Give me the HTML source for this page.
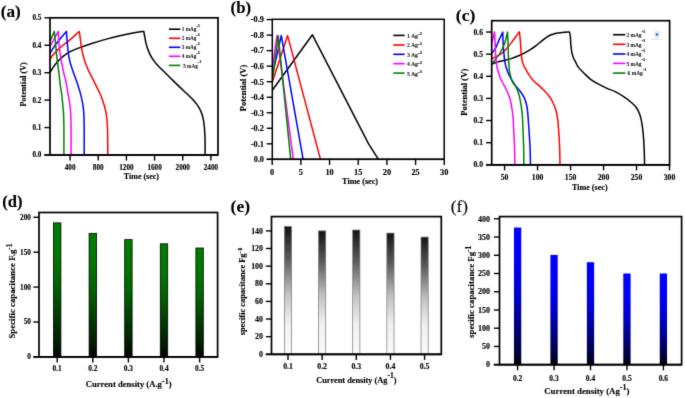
<!DOCTYPE html><html><head><meta charset="utf-8"><style>html,body{margin:0;padding:0;background:#fff;}svg{display:block;}#w{will-change:transform;width:685px;height:398px;overflow:hidden;}text{font-family:"Liberation Serif",serif;fill:#000;stroke:#000;stroke-width:0.14px;}</style></head><body>
<div id="w">
<svg width="685" height="398" viewBox="0 0 685 398">
<rect width="685" height="398" fill="#fff"/>
<filter id="bl" x="0" y="0" width="685" height="398" filterUnits="userSpaceOnUse" color-interpolation-filters="sRGB"><feConvolveMatrix order="3" kernelMatrix="0.0183 0.1353 0.0183 0.1353 1.0000 0.1353 0.0183 0.1353 0.0183" divisor="1.6146" edgeMode="duplicate"/></filter>
<g filter="url(#bl)">
<rect width="685" height="398" fill="#fff"/>
<defs><linearGradient id="gG" x1="0" y1="0" x2="0" y2="1"><stop offset="0" stop-color="#008000"/><stop offset="0.25" stop-color="#007600"/><stop offset="0.45" stop-color="#006400"/><stop offset="0.75" stop-color="#003200"/><stop offset="0.91" stop-color="#001900"/><stop offset="1" stop-color="#000500"/></linearGradient><linearGradient id="gB" x1="0" y1="0" x2="0" y2="1"><stop offset="0" stop-color="#0000ff"/><stop offset="0.2" stop-color="#0000fa"/><stop offset="0.48" stop-color="#0000cd"/><stop offset="0.77" stop-color="#00006e"/><stop offset="0.93" stop-color="#000032"/><stop offset="1" stop-color="#000010"/></linearGradient><linearGradient id="gK" x1="0" y1="0" x2="0" y2="1"><stop offset="0" stop-color="#141414"/><stop offset="0.05" stop-color="#222"/><stop offset="0.25" stop-color="#5a5a5a"/><stop offset="0.52" stop-color="#c0c0c0"/><stop offset="0.75" stop-color="#f0f0f0"/><stop offset="1" stop-color="#fafafa"/></linearGradient></defs>
<path d="M50,72.6C50.42,71.88 51.33,70.03 52.5,68.3C53.67,66.57 55.23,64.2 57,62.2C58.77,60.2 60.83,58.1 63.1,56.3C65.37,54.5 68.25,52.68 70.6,51.4C72.95,50.12 73.67,49.92 77.2,48.6C80.73,47.28 86.93,45.08 91.8,43.5C96.67,41.92 101.53,40.43 106.4,39.1C111.27,37.77 116.13,36.58 121,35.5C125.87,34.42 131.8,33.28 135.6,32.6C139.4,31.92 142.43,31.6 143.8,31.4C143.92,32.08 144.13,33.55 144.5,35.5C144.87,37.45 145.37,40.58 146,43.1C146.63,45.62 147.28,48.08 148.3,50.6C149.32,53.12 150.72,55.93 152.1,58.2C153.48,60.47 154.85,62.18 156.6,64.2C158.35,66.22 160.33,68.03 162.6,70.3C164.87,72.57 167.68,75.33 170.2,77.8C172.72,80.27 175.55,83.03 177.7,85.1C179.85,87.17 180.7,87.92 183.1,90.2C185.5,92.48 189.47,95.95 192.1,98.8C194.73,101.65 197.2,104.57 198.9,107.3C200.6,110.03 201.43,112.37 202.3,115.2C203.17,118.03 203.65,120.52 204.1,124.3C204.55,128.08 204.83,132.78 205,137.9C205.17,143.02 205.08,152.15 205.1,155" fill="none" stroke="#000" stroke-width="1.5" stroke-linejoin="round" stroke-linecap="butt"/>
<path d="M50,59.5C50.42,58.85 50.82,57.58 52.5,55.6C54.18,53.62 57.33,50.1 60.1,47.6C62.87,45.1 65.92,43.28 69.1,40.6C72.28,37.92 77.52,33.02 79.2,31.5C79.38,32.68 79.97,36.25 80.3,38.6C80.63,40.95 80.85,43.32 81.2,45.6C81.55,47.88 82.03,50.48 82.4,52.3C82.77,54.12 82.92,54.8 83.4,56.5C83.88,58.2 84.48,60.23 85.3,62.5C86.12,64.77 87.17,67.58 88.3,70.1C89.43,72.62 90.85,75.08 92.1,77.6C93.35,80.12 94.55,82.68 95.8,85.2C97.05,87.72 98.47,90.2 99.6,92.7C100.73,95.2 101.72,97.68 102.6,100.2C103.48,102.72 104.27,105.33 104.9,107.8C105.53,110.27 106.02,112.63 106.4,115C106.78,117.37 107,119.17 107.2,122C107.4,124.83 107.5,126.5 107.6,132C107.7,137.5 107.77,151.17 107.8,155" fill="none" stroke="#ff0000" stroke-width="1.5" stroke-linejoin="round" stroke-linecap="butt"/>
<path d="M50,53.6C50.92,52.1 52.77,48.3 55.5,44.6C58.23,40.9 64.58,33.6 66.4,31.4C66.55,33.35 66.85,38.63 67.3,43.1C67.75,47.57 68.3,53.93 69.1,58.2C69.9,62.47 70.97,65.18 72.1,68.7C73.23,72.22 74.55,75.32 75.9,79.3C77.25,83.28 79.03,88.37 80.2,92.6C81.37,96.83 82.28,100.93 82.9,104.7C83.52,108.47 83.68,110.98 83.9,115.2C84.12,119.42 84.15,123.37 84.2,130C84.25,136.63 84.2,150.83 84.2,155" fill="none" stroke="#0000ff" stroke-width="1.5" stroke-linejoin="round" stroke-linecap="butt"/>
<path d="M50,46.5L58.3,31.4C58.4,33.35 58.48,38.63 58.9,43.1C59.32,47.57 59.98,53.18 60.8,58.2C61.62,63.22 63,69.57 63.8,73.2C64.6,76.83 64.93,76.77 65.6,80C66.27,83.23 67.08,88.48 67.8,92.6C68.52,96.72 69.4,100.93 69.9,104.7C70.4,108.47 70.6,110.98 70.8,115.2C71,119.42 71.05,123.37 71.1,130C71.15,136.63 71.1,150.83 71.1,155" fill="none" stroke="#ff00ff" stroke-width="1.5" stroke-linejoin="round" stroke-linecap="butt"/>
<path d="M50,41.5L54.3,31.4C54.5,33.35 55.05,38.63 55.5,43.1C55.95,47.57 56.43,53.18 57,58.2C57.57,63.22 58.33,68.57 58.9,73.2C59.47,77.83 59.95,82.53 60.4,86C60.85,89.47 61.2,90.88 61.6,94C62,97.12 62.47,101.17 62.8,104.7C63.13,108.23 63.42,110.98 63.6,115.2C63.78,119.42 63.85,123.37 63.9,130C63.95,136.63 63.9,150.83 63.9,155" fill="none" stroke="#008000" stroke-width="1.5" stroke-linejoin="round" stroke-linecap="butt"/>
<line x1="44.3" y1="155" x2="218" y2="155" stroke="#000" stroke-width="1.7"/>
<rect x="50" y="17.8" width="168" height="137.2" fill="none" stroke="#000" stroke-width="1.7"/>
<line x1="44.4" y1="155" x2="50" y2="155" stroke="#000" stroke-width="1.4"/>
<text x="41.4" y="157.45" font-size="7.2" text-anchor="end" font-weight="bold">0.0</text>
<line x1="44.4" y1="127.56" x2="50" y2="127.56" stroke="#000" stroke-width="1.4"/>
<text x="41.4" y="130.01" font-size="7.2" text-anchor="end" font-weight="bold">0.1</text>
<line x1="44.4" y1="100.12" x2="50" y2="100.12" stroke="#000" stroke-width="1.4"/>
<text x="41.4" y="102.57" font-size="7.2" text-anchor="end" font-weight="bold">0.2</text>
<line x1="44.4" y1="72.68" x2="50" y2="72.68" stroke="#000" stroke-width="1.4"/>
<text x="41.4" y="75.13" font-size="7.2" text-anchor="end" font-weight="bold">0.3</text>
<line x1="44.4" y1="45.24" x2="50" y2="45.24" stroke="#000" stroke-width="1.4"/>
<text x="41.4" y="47.69" font-size="7.2" text-anchor="end" font-weight="bold">0.4</text>
<line x1="44.4" y1="17.8" x2="50" y2="17.8" stroke="#000" stroke-width="1.4"/>
<text x="41.4" y="20.25" font-size="7.2" text-anchor="end" font-weight="bold">0.5</text>
<line x1="70.1" y1="155" x2="70.1" y2="160.6" stroke="#000" stroke-width="1.4"/>
<text x="70.1" y="169.95" font-size="7.2" text-anchor="middle" font-weight="bold">400</text>
<line x1="98.26" y1="155" x2="98.26" y2="160.6" stroke="#000" stroke-width="1.4"/>
<text x="98.26" y="169.95" font-size="7.2" text-anchor="middle" font-weight="bold">800</text>
<line x1="126.42" y1="155" x2="126.42" y2="160.6" stroke="#000" stroke-width="1.4"/>
<text x="126.42" y="169.95" font-size="7.2" text-anchor="middle" font-weight="bold">1200</text>
<line x1="154.58" y1="155" x2="154.58" y2="160.6" stroke="#000" stroke-width="1.4"/>
<text x="154.58" y="169.95" font-size="7.2" text-anchor="middle" font-weight="bold">1600</text>
<line x1="182.74" y1="155" x2="182.74" y2="160.6" stroke="#000" stroke-width="1.4"/>
<text x="182.74" y="169.95" font-size="7.2" text-anchor="middle" font-weight="bold">2000</text>
<line x1="210.9" y1="155" x2="210.9" y2="160.6" stroke="#000" stroke-width="1.4"/>
<text x="210.9" y="169.95" font-size="7.2" text-anchor="middle" font-weight="bold">2400</text>
<text x="141.4" y="178.5" font-size="8" text-anchor="middle" font-weight="bold">Time (sec)</text>
<text x="23.5" y="84.4" font-size="8.1" text-anchor="middle" font-weight="bold" transform="rotate(-90 23.5 84.4)" dy="2.8">Potential (V)</text>
<line x1="168.9" y1="29.2" x2="180.3" y2="29.2" stroke="#000" stroke-width="1.6"/>
<text x="181.8" y="31.38" font-size="5.2" font-weight="bold" style="stroke:#222;stroke-width:0.08px;fill:#222">1 mAg<tspan font-size="4.42" dy="-4.16" style="stroke-width:0.2px">-1</tspan></text>
<line x1="168.9" y1="38.3" x2="180.3" y2="38.3" stroke="#ff0000" stroke-width="1.6"/>
<text x="181.8" y="40.48" font-size="5.2" font-weight="bold" style="stroke:#222;stroke-width:0.08px;fill:#222">2 mAg<tspan font-size="4.42" dy="-4.16" style="stroke-width:0.2px">-1</tspan></text>
<line x1="168.9" y1="47.3" x2="180.3" y2="47.3" stroke="#0000ff" stroke-width="1.6"/>
<text x="181.8" y="49.48" font-size="5.2" font-weight="bold" style="stroke:#222;stroke-width:0.08px;fill:#222">3 mAg<tspan font-size="4.42" dy="-4.16" style="stroke-width:0.2px">-1</tspan></text>
<line x1="168.9" y1="56.3" x2="180.3" y2="56.3" stroke="#ff00ff" stroke-width="1.6"/>
<text x="181.8" y="58.48" font-size="5.2" font-weight="bold" style="stroke:#222;stroke-width:0.08px;fill:#222">4 mAg<tspan font-size="4.42" dy="-4.16" style="stroke-width:0.2px">-1</tspan></text>
<line x1="168.9" y1="65.4" x2="180.3" y2="65.4" stroke="#008000" stroke-width="1.6"/>
<text x="183.2" y="67.58" font-size="5.2" font-weight="bold" style="stroke:#222;stroke-width:0.08px;fill:#222">5 mAg<tspan font-size="4.42" dy="-4.16" style="stroke-width:0.2px">-1</tspan></text>
<text x="0.8" y="17.4" font-size="17.2" text-anchor="start" font-weight="bold">(a)</text>
<path d="M272.5,90L312.4,34.8L368.6,143.8L378.3,159.1" fill="none" stroke="#000" stroke-width="1.5" stroke-linejoin="round" stroke-linecap="butt"/>
<path d="M272.5,81.6L287.6,35.6L320.4,159.1" fill="none" stroke="#ff0000" stroke-width="1.5" stroke-linejoin="round" stroke-linecap="butt"/>
<path d="M272.5,74.7L281.3,35.6L303.1,159.1" fill="none" stroke="#0000ff" stroke-width="1.5" stroke-linejoin="round" stroke-linecap="butt"/>
<path d="M272.5,66.9L277,35.6L293.3,159.1" fill="none" stroke="#ff00ff" stroke-width="1.5" stroke-linejoin="round" stroke-linecap="butt"/>
<path d="M272.5,79.3L278.2,35.6L290.7,159.1" fill="none" stroke="#008000" stroke-width="1.5" stroke-linejoin="round" stroke-linecap="butt"/>
<line x1="266.6" y1="159.35" x2="444.2" y2="159.35" stroke="#000" stroke-width="1.5"/>
<rect x="272.3" y="19.3" width="171.9" height="140.05" fill="none" stroke="#000" stroke-width="1.5"/>
<line x1="266.7" y1="159.35" x2="272.3" y2="159.35" stroke="#000" stroke-width="1.4"/>
<text x="264" y="162.17" font-size="8.3" text-anchor="end" font-weight="bold">0.0</text>
<line x1="266.7" y1="143.82" x2="272.3" y2="143.82" stroke="#000" stroke-width="1.4"/>
<text x="264" y="146.64" font-size="8.3" text-anchor="end" font-weight="bold">-0.1</text>
<line x1="266.7" y1="128.29" x2="272.3" y2="128.29" stroke="#000" stroke-width="1.4"/>
<text x="264" y="131.11" font-size="8.3" text-anchor="end" font-weight="bold">-0.2</text>
<line x1="266.7" y1="112.76" x2="272.3" y2="112.76" stroke="#000" stroke-width="1.4"/>
<text x="264" y="115.58" font-size="8.3" text-anchor="end" font-weight="bold">-0.3</text>
<line x1="266.7" y1="97.23" x2="272.3" y2="97.23" stroke="#000" stroke-width="1.4"/>
<text x="264" y="100.05" font-size="8.3" text-anchor="end" font-weight="bold">-0.4</text>
<line x1="266.7" y1="81.7" x2="272.3" y2="81.7" stroke="#000" stroke-width="1.4"/>
<text x="264" y="84.52" font-size="8.3" text-anchor="end" font-weight="bold">-0.5</text>
<line x1="266.7" y1="66.17" x2="272.3" y2="66.17" stroke="#000" stroke-width="1.4"/>
<text x="264" y="68.99" font-size="8.3" text-anchor="end" font-weight="bold">-0.6</text>
<line x1="266.7" y1="50.64" x2="272.3" y2="50.64" stroke="#000" stroke-width="1.4"/>
<text x="264" y="53.46" font-size="8.3" text-anchor="end" font-weight="bold">-0.7</text>
<line x1="266.7" y1="35.11" x2="272.3" y2="35.11" stroke="#000" stroke-width="1.4"/>
<text x="264" y="37.93" font-size="8.3" text-anchor="end" font-weight="bold">-0.8</text>
<line x1="266.7" y1="19.58" x2="272.3" y2="19.58" stroke="#000" stroke-width="1.4"/>
<text x="264" y="22.4" font-size="8.3" text-anchor="end" font-weight="bold">-0.9</text>
<line x1="272.2" y1="159.35" x2="272.2" y2="164.95" stroke="#000" stroke-width="1.4"/>
<text x="272.2" y="174.82" font-size="8.3" text-anchor="middle" font-weight="bold">0</text>
<line x1="300.88" y1="159.35" x2="300.88" y2="164.95" stroke="#000" stroke-width="1.4"/>
<text x="300.88" y="174.82" font-size="8.3" text-anchor="middle" font-weight="bold">5</text>
<line x1="329.55" y1="159.35" x2="329.55" y2="164.95" stroke="#000" stroke-width="1.4"/>
<text x="329.55" y="174.82" font-size="8.3" text-anchor="middle" font-weight="bold">10</text>
<line x1="358.23" y1="159.35" x2="358.23" y2="164.95" stroke="#000" stroke-width="1.4"/>
<text x="358.23" y="174.82" font-size="8.3" text-anchor="middle" font-weight="bold">15</text>
<line x1="386.9" y1="159.35" x2="386.9" y2="164.95" stroke="#000" stroke-width="1.4"/>
<text x="386.9" y="174.82" font-size="8.3" text-anchor="middle" font-weight="bold">20</text>
<line x1="415.57" y1="159.35" x2="415.57" y2="164.95" stroke="#000" stroke-width="1.4"/>
<text x="415.57" y="174.82" font-size="8.3" text-anchor="middle" font-weight="bold">25</text>
<line x1="444.25" y1="159.35" x2="444.25" y2="164.95" stroke="#000" stroke-width="1.4"/>
<text x="444.25" y="174.82" font-size="8.3" text-anchor="middle" font-weight="bold">30</text>
<text x="360.1" y="183.9" font-size="8.2" text-anchor="middle" font-weight="bold">Time (sec)</text>
<text x="243.1" y="88" font-size="8.5" text-anchor="middle" font-weight="bold" transform="rotate(-90 243.1 88)" dy="2.9">Potential (V)</text>
<line x1="393.3" y1="35.4" x2="404.6" y2="35.4" stroke="#000" stroke-width="1.6"/>
<text x="406.9" y="37.84" font-size="5.8" font-weight="bold" style="stroke:#222;stroke-width:0.08px;fill:#222">1 Ag<tspan font-size="4.93" dy="-2.44" style="stroke-width:0.2px">-1</tspan></text>
<line x1="393.3" y1="45" x2="404.6" y2="45" stroke="#ff0000" stroke-width="1.6"/>
<text x="406.9" y="47.44" font-size="5.8" font-weight="bold" style="stroke:#222;stroke-width:0.08px;fill:#222">2 Ag<tspan font-size="4.93" dy="-2.44" style="stroke-width:0.2px">-1</tspan></text>
<line x1="393.3" y1="54.3" x2="404.6" y2="54.3" stroke="#0000ff" stroke-width="1.6"/>
<text x="406.9" y="56.74" font-size="5.8" font-weight="bold" style="stroke:#222;stroke-width:0.08px;fill:#222">3 Ag<tspan font-size="4.93" dy="-2.44" style="stroke-width:0.2px">-1</tspan></text>
<line x1="393.3" y1="63.7" x2="404.6" y2="63.7" stroke="#ff00ff" stroke-width="1.6"/>
<text x="406.9" y="66.14" font-size="5.8" font-weight="bold" style="stroke:#222;stroke-width:0.08px;fill:#222">4 Ag<tspan font-size="4.93" dy="-2.44" style="stroke-width:0.2px">-1</tspan></text>
<line x1="393.3" y1="73.1" x2="404.6" y2="73.1" stroke="#008000" stroke-width="1.6"/>
<text x="406.9" y="75.54" font-size="5.8" font-weight="bold" style="stroke:#222;stroke-width:0.08px;fill:#222">5 Ag<tspan font-size="4.93" dy="-2.44" style="stroke-width:0.2px">-1</tspan></text>
<text x="230.6" y="12.8" font-size="16.8" text-anchor="start" font-weight="bold">(b)</text>
<path d="M492,64C493.33,63.55 496.82,62.2 500,61.3C503.18,60.4 507.6,59.68 511.1,58.6C514.6,57.52 518.52,55.88 521,54.8C523.48,53.72 524.32,53.05 526,52.1C527.68,51.15 529.42,50.18 531.1,49.1C532.78,48.02 534.43,46.85 536.1,45.6C537.77,44.35 539.43,42.93 541.1,41.6C542.77,40.27 544.42,38.73 546.1,37.6C547.78,36.47 549.52,35.53 551.2,34.8C552.88,34.07 554.37,33.58 556.2,33.2C558.03,32.82 559.98,32.72 562.2,32.5C564.42,32.28 568.28,32 569.5,31.9C569.63,32.6 570.08,34.08 570.3,36.1C570.52,38.12 570.55,41.33 570.8,44C571.05,46.67 571.38,49.83 571.8,52.1C572.22,54.37 572.68,55.98 573.3,57.6C573.92,59.22 574.63,60.17 575.5,61.8C576.37,63.43 576.98,65.4 578.5,67.4C580.02,69.4 582.58,71.82 584.6,73.8C586.62,75.78 588.43,77.65 590.6,79.3C592.77,80.95 594.97,82.23 597.6,83.7C600.23,85.17 603.47,86.77 606.4,88.1C609.33,89.43 612.27,90.23 615.2,91.7C618.13,93.17 621.37,95.15 624,96.9C626.63,98.65 628.95,100.43 631,102.2C633.05,103.97 634.83,105.45 636.3,107.5C637.77,109.55 638.87,111.87 639.8,114.5C640.73,117.13 641.32,119.88 641.9,123.3C642.48,126.72 642.92,130.55 643.3,135C643.68,139.45 643.98,145.03 644.2,150C644.42,154.97 644.53,162.33 644.6,164.8" fill="none" stroke="#000" stroke-width="1.5" stroke-linejoin="round" stroke-linecap="butt"/>
<path d="M492,58.6C493.33,57.95 497.73,56.18 500,54.7C502.27,53.22 503.75,51.63 505.6,49.7C507.45,47.77 509.45,45.22 511.1,43.1C512.75,40.98 514.12,38.88 515.5,37C516.88,35.12 518.75,32.67 519.4,31.8C519.58,33.6 520.2,38.97 520.5,42.6C520.8,46.23 520.93,50.62 521.2,53.6C521.47,56.58 521.72,58.63 522.1,60.5C522.48,62.37 523.02,63.57 523.5,64.8C523.98,66.03 524.17,66.35 525,67.9C525.83,69.45 527.03,71.9 528.5,74.1C529.97,76.3 532.03,79.18 533.8,81.1C535.57,83.02 537.33,83.98 539.1,85.6C540.87,87.22 542.63,88.9 544.4,90.8C546.17,92.7 548.23,94.93 549.7,97C551.17,99.07 552.15,100.95 553.2,103.2C554.25,105.45 555.23,107.7 556,110.5C556.77,113.3 557.37,116.75 557.8,120C558.23,123.25 558.3,125.6 558.6,130C558.9,134.4 559.37,140.6 559.6,146.4C559.83,152.2 559.93,161.73 560,164.8" fill="none" stroke="#ff0000" stroke-width="1.5" stroke-linejoin="round" stroke-linecap="butt"/>
<path d="M492,53C492.6,52.18 494.45,50.2 495.6,48.1C496.75,46 497.7,43.07 498.9,40.4C500.1,37.73 502.15,33.48 502.8,32.1C502.85,33.85 502.92,39.02 503.1,42.6C503.28,46.18 503.62,50.48 503.9,53.6C504.18,56.72 504.43,59.05 504.8,61.3C505.17,63.55 505.38,64.78 506.1,67.1C506.82,69.42 507.6,72.18 509.1,75.2C510.6,78.22 513.27,82.53 515.1,85.2C516.93,87.87 518.6,89.18 520.1,91.2C521.6,93.22 523.08,95.28 524.1,97.3C525.12,99.32 525.62,100.97 526.2,103.3C526.78,105.63 527.2,107.75 527.6,111.3C528,114.85 528.2,118.75 528.6,124.6C529,130.45 529.68,139.7 530,146.4C530.32,153.1 530.42,161.73 530.5,164.8" fill="none" stroke="#0000ff" stroke-width="1.5" stroke-linejoin="round" stroke-linecap="butt"/>
<path d="M492,64.1C492.6,63.27 494.27,60.95 495.6,59.1C496.93,57.25 498.52,55.57 500,53C501.48,50.43 503.25,47.18 504.5,43.7C505.75,40.22 507,34.03 507.5,32.1C507.58,33.85 507.87,39.02 508,42.6C508.13,46.18 508.18,50.48 508.3,53.6C508.42,56.72 508.5,58.38 508.7,61.3C508.9,64.22 508.93,67.78 509.5,71.1C510.07,74.42 511,78.52 512.1,81.2C513.2,83.88 514.93,84.85 516.1,87.2C517.27,89.55 518.27,92.28 519.1,95.3C519.93,98.32 520.57,101.95 521.1,105.3C521.63,108.65 522.02,112.18 522.3,115.4C522.58,118.62 522.58,119.43 522.8,124.6C523.02,129.77 523.42,139.7 523.6,146.4C523.78,153.1 523.85,161.73 523.9,164.8" fill="none" stroke="#008000" stroke-width="1.5" stroke-linejoin="round" stroke-linecap="butt"/>
<path d="M492,42.3L494.5,32.1C494.6,33.85 494.93,39.02 495.1,42.6C495.27,46.18 495.3,50.37 495.5,53.6C495.7,56.83 496.02,59.6 496.3,62C496.58,64.4 496.58,65.47 497.2,68C497.82,70.53 498.87,74.33 500,77.2C501.13,80.07 502.82,82.87 504,85.2C505.18,87.53 506.08,88.85 507.1,91.2C508.12,93.55 509.27,96.28 510.1,99.3C510.93,102.32 511.58,105.95 512.1,109.3C512.62,112.65 512.93,115.95 513.2,119.4C513.47,122.85 513.48,125.5 513.7,130C513.92,134.5 514.3,140.6 514.5,146.4C514.7,152.2 514.83,161.73 514.9,164.8" fill="none" stroke="#ff00ff" stroke-width="1.5" stroke-linejoin="round" stroke-linecap="butt"/>
<line x1="486" y1="164.8" x2="669.6" y2="164.8" stroke="#000" stroke-width="1.7"/>
<rect x="491.7" y="20.7" width="177.9" height="144.1" fill="none" stroke="#000" stroke-width="1.7"/>
<line x1="486.1" y1="164.8" x2="491.7" y2="164.8" stroke="#000" stroke-width="1.4"/>
<text x="483" y="167.42" font-size="7.7" text-anchor="end" font-weight="bold">0.0</text>
<line x1="486.1" y1="142.67" x2="491.7" y2="142.67" stroke="#000" stroke-width="1.4"/>
<text x="483" y="145.29" font-size="7.7" text-anchor="end" font-weight="bold">0.1</text>
<line x1="486.1" y1="120.54" x2="491.7" y2="120.54" stroke="#000" stroke-width="1.4"/>
<text x="483" y="123.16" font-size="7.7" text-anchor="end" font-weight="bold">0.2</text>
<line x1="486.1" y1="98.41" x2="491.7" y2="98.41" stroke="#000" stroke-width="1.4"/>
<text x="483" y="101.03" font-size="7.7" text-anchor="end" font-weight="bold">0.3</text>
<line x1="486.1" y1="76.28" x2="491.7" y2="76.28" stroke="#000" stroke-width="1.4"/>
<text x="483" y="78.9" font-size="7.7" text-anchor="end" font-weight="bold">0.4</text>
<line x1="486.1" y1="54.15" x2="491.7" y2="54.15" stroke="#000" stroke-width="1.4"/>
<text x="483" y="56.77" font-size="7.7" text-anchor="end" font-weight="bold">0.5</text>
<line x1="486.1" y1="32.02" x2="491.7" y2="32.02" stroke="#000" stroke-width="1.4"/>
<text x="483" y="34.64" font-size="7.7" text-anchor="end" font-weight="bold">0.6</text>
<line x1="504.6" y1="164.8" x2="504.6" y2="170.4" stroke="#000" stroke-width="1.4"/>
<text x="504.6" y="180.42" font-size="7.7" text-anchor="middle" font-weight="bold">50</text>
<line x1="537.58" y1="164.8" x2="537.58" y2="170.4" stroke="#000" stroke-width="1.4"/>
<text x="537.58" y="180.42" font-size="7.7" text-anchor="middle" font-weight="bold">100</text>
<line x1="570.56" y1="164.8" x2="570.56" y2="170.4" stroke="#000" stroke-width="1.4"/>
<text x="570.56" y="180.42" font-size="7.7" text-anchor="middle" font-weight="bold">150</text>
<line x1="603.54" y1="164.8" x2="603.54" y2="170.4" stroke="#000" stroke-width="1.4"/>
<text x="603.54" y="180.42" font-size="7.7" text-anchor="middle" font-weight="bold">200</text>
<line x1="636.52" y1="164.8" x2="636.52" y2="170.4" stroke="#000" stroke-width="1.4"/>
<text x="636.52" y="180.42" font-size="7.7" text-anchor="middle" font-weight="bold">250</text>
<line x1="669.5" y1="164.8" x2="669.5" y2="170.4" stroke="#000" stroke-width="1.4"/>
<text x="669.5" y="180.42" font-size="7.7" text-anchor="middle" font-weight="bold">300</text>
<text x="589.8" y="190.4" font-size="8.1" text-anchor="middle" font-weight="bold">Time (sec)</text>
<text x="464.1" y="92.2" font-size="8.6" text-anchor="middle" font-weight="bold" transform="rotate(-90 464.1 92.2)" dy="2.9">Potential (V)</text>
<line x1="613" y1="34.7" x2="625.4" y2="34.7" stroke="#000" stroke-width="1.6"/>
<text x="626.4" y="36.97" font-size="5.4" font-weight="bold" style="stroke:#222;stroke-width:0.08px;fill:#222">2 mAg<tspan font-size="4.59" dy="-4.32" style="stroke-width:0.2px">-1</tspan></text>
<line x1="613" y1="44.3" x2="625.4" y2="44.3" stroke="#ff0000" stroke-width="1.6"/>
<text x="626.4" y="46.57" font-size="5.4" font-weight="bold" style="stroke:#222;stroke-width:0.08px;fill:#222">3 mAg<tspan font-size="4.59" dy="-4.32" style="stroke-width:0.2px">-1</tspan></text>
<line x1="613" y1="54" x2="625.4" y2="54" stroke="#0000ff" stroke-width="1.6"/>
<text x="626.4" y="56.27" font-size="5.4" font-weight="bold" style="stroke:#222;stroke-width:0.08px;fill:#222">4 mAg<tspan font-size="4.59" dy="-4.32" style="stroke-width:0.2px">-1</tspan></text>
<line x1="613" y1="63.4" x2="625.4" y2="63.4" stroke="#ff00ff" stroke-width="1.6"/>
<text x="626.4" y="65.67" font-size="5.4" font-weight="bold" style="stroke:#222;stroke-width:0.08px;fill:#222">5 mAg<tspan font-size="4.59" dy="-4.32" style="stroke-width:0.2px">-1</tspan></text>
<line x1="613" y1="73.1" x2="625.4" y2="73.1" stroke="#008000" stroke-width="1.6"/>
<text x="627.6" y="75.37" font-size="5.4" font-weight="bold" style="stroke:#222;stroke-width:0.08px;fill:#222">6 mAg<tspan font-size="4.59" dy="-4.32" style="stroke-width:0.2px">-1</tspan></text>
<rect x="655" y="31.8" width="4" height="5.4" fill="#eef2fa" stroke="#b8c4dc" stroke-width="0.5"/><circle cx="657" cy="34.5" r="1.2" fill="#2a6ae8"/>
<text x="656.8" y="40.2" font-size="2.4" text-anchor="middle" style="fill:#aaa;stroke:none">Origin Lab</text>
<text x="455.8" y="21" font-size="17.6" text-anchor="start" font-weight="bold">(c)</text>
<rect x="53.5" y="222.88" width="7.4" height="134.02" fill="url(#gG)" stroke="#000" stroke-width="0.8"/>
<rect x="89.1" y="233.35" width="7.4" height="123.55" fill="url(#gG)" stroke="#000" stroke-width="0.8"/>
<rect x="124.7" y="239.64" width="7.4" height="117.26" fill="url(#gG)" stroke="#000" stroke-width="0.8"/>
<rect x="160.3" y="243.82" width="7.4" height="113.08" fill="url(#gG)" stroke="#000" stroke-width="0.8"/>
<rect x="195.9" y="248.01" width="7.4" height="108.89" fill="url(#gG)" stroke="#000" stroke-width="0.8"/>
<line x1="33.3" y1="356.9" x2="217.6" y2="356.9" stroke="#000" stroke-width="1.7"/>
<rect x="39" y="212.5" width="178.6" height="144.4" fill="none" stroke="#000" stroke-width="1.7"/>
<line x1="33.4" y1="356.9" x2="39" y2="356.9" stroke="#000" stroke-width="1.4"/>
<text x="31" y="359.38" font-size="7.3" text-anchor="end" font-weight="bold">0</text>
<line x1="33.4" y1="322" x2="39" y2="322" stroke="#000" stroke-width="1.4"/>
<text x="31" y="324.48" font-size="7.3" text-anchor="end" font-weight="bold">50</text>
<line x1="33.4" y1="287.1" x2="39" y2="287.1" stroke="#000" stroke-width="1.4"/>
<text x="31" y="289.58" font-size="7.3" text-anchor="end" font-weight="bold">100</text>
<line x1="33.4" y1="252.2" x2="39" y2="252.2" stroke="#000" stroke-width="1.4"/>
<text x="31" y="254.68" font-size="7.3" text-anchor="end" font-weight="bold">150</text>
<line x1="33.4" y1="217.3" x2="39" y2="217.3" stroke="#000" stroke-width="1.4"/>
<text x="31" y="219.78" font-size="7.3" text-anchor="end" font-weight="bold">200</text>
<line x1="57.2" y1="356.9" x2="57.2" y2="362.5" stroke="#000" stroke-width="1.4"/>
<text x="57.2" y="370.92" font-size="7.4" text-anchor="middle" font-weight="bold">0.1</text>
<line x1="92.8" y1="356.9" x2="92.8" y2="362.5" stroke="#000" stroke-width="1.4"/>
<text x="92.8" y="370.92" font-size="7.4" text-anchor="middle" font-weight="bold">0.2</text>
<line x1="128.4" y1="356.9" x2="128.4" y2="362.5" stroke="#000" stroke-width="1.4"/>
<text x="128.4" y="370.92" font-size="7.4" text-anchor="middle" font-weight="bold">0.3</text>
<line x1="164" y1="356.9" x2="164" y2="362.5" stroke="#000" stroke-width="1.4"/>
<text x="164" y="370.92" font-size="7.4" text-anchor="middle" font-weight="bold">0.4</text>
<line x1="199.6" y1="356.9" x2="199.6" y2="362.5" stroke="#000" stroke-width="1.4"/>
<text x="199.6" y="370.92" font-size="7.4" text-anchor="middle" font-weight="bold">0.5</text>
<text x="128.7" y="386.6" font-size="8.62" text-anchor="middle" font-weight="bold">Current density (A.g<tspan font-size="8.19" dy="-2.59">-1</tspan><tspan dy="2.59">)</tspan></text>
<text x="15.3" y="291" font-size="8.8" text-anchor="middle" font-weight="bold" transform="rotate(-90 15.3 291)">Specific capacitance F.g<tspan font-size="7.48" dy="-3.34">-1</tspan></text>
<text x="2.3" y="206.6" font-size="16.6" text-anchor="start" font-weight="bold">(d)</text>
<rect x="284.4" y="226.5" width="7.2" height="127.8" fill="url(#gK)" stroke="#777" stroke-width="0.7"/>
<rect x="318.55" y="230.9" width="7.2" height="123.4" fill="url(#gK)" stroke="#777" stroke-width="0.7"/>
<rect x="352.7" y="230.02" width="7.2" height="124.28" fill="url(#gK)" stroke="#777" stroke-width="0.7"/>
<rect x="386.85" y="233.11" width="7.2" height="121.19" fill="url(#gK)" stroke="#777" stroke-width="0.7"/>
<rect x="421" y="237.07" width="7.2" height="117.23" fill="url(#gK)" stroke="#777" stroke-width="0.7"/>
<line x1="265.8" y1="354.3" x2="441.3" y2="354.3" stroke="#000" stroke-width="1.7"/>
<rect x="271.5" y="216.6" width="169.8" height="137.7" fill="none" stroke="#000" stroke-width="1.7"/>
<line x1="265.9" y1="354.3" x2="271.5" y2="354.3" stroke="#000" stroke-width="1.4"/>
<text x="263" y="356.99" font-size="7.9" text-anchor="end" font-weight="bold">0</text>
<line x1="265.9" y1="336.67" x2="271.5" y2="336.67" stroke="#000" stroke-width="1.4"/>
<text x="263" y="339.36" font-size="7.9" text-anchor="end" font-weight="bold">20</text>
<line x1="265.9" y1="319.04" x2="271.5" y2="319.04" stroke="#000" stroke-width="1.4"/>
<text x="263" y="321.73" font-size="7.9" text-anchor="end" font-weight="bold">40</text>
<line x1="265.9" y1="301.42" x2="271.5" y2="301.42" stroke="#000" stroke-width="1.4"/>
<text x="263" y="304.1" font-size="7.9" text-anchor="end" font-weight="bold">60</text>
<line x1="265.9" y1="283.79" x2="271.5" y2="283.79" stroke="#000" stroke-width="1.4"/>
<text x="263" y="286.47" font-size="7.9" text-anchor="end" font-weight="bold">80</text>
<line x1="265.9" y1="266.16" x2="271.5" y2="266.16" stroke="#000" stroke-width="1.4"/>
<text x="263" y="268.85" font-size="7.9" text-anchor="end" font-weight="bold">100</text>
<line x1="265.9" y1="248.53" x2="271.5" y2="248.53" stroke="#000" stroke-width="1.4"/>
<text x="263" y="251.22" font-size="7.9" text-anchor="end" font-weight="bold">120</text>
<line x1="265.9" y1="230.9" x2="271.5" y2="230.9" stroke="#000" stroke-width="1.4"/>
<text x="263" y="233.59" font-size="7.9" text-anchor="end" font-weight="bold">140</text>
<line x1="288" y1="354.3" x2="288" y2="359.9" stroke="#000" stroke-width="1.4"/>
<text x="288" y="369.05" font-size="7.8" text-anchor="middle" font-weight="bold">0.1</text>
<line x1="322.15" y1="354.3" x2="322.15" y2="359.9" stroke="#000" stroke-width="1.4"/>
<text x="322.15" y="369.05" font-size="7.8" text-anchor="middle" font-weight="bold">0.2</text>
<line x1="356.3" y1="354.3" x2="356.3" y2="359.9" stroke="#000" stroke-width="1.4"/>
<text x="356.3" y="369.05" font-size="7.8" text-anchor="middle" font-weight="bold">0.3</text>
<line x1="390.45" y1="354.3" x2="390.45" y2="359.9" stroke="#000" stroke-width="1.4"/>
<text x="390.45" y="369.05" font-size="7.8" text-anchor="middle" font-weight="bold">0.4</text>
<line x1="424.6" y1="354.3" x2="424.6" y2="359.9" stroke="#000" stroke-width="1.4"/>
<text x="424.6" y="369.05" font-size="7.8" text-anchor="middle" font-weight="bold">0.5</text>
<text x="356.4" y="382.6" font-size="8.3" text-anchor="middle" font-weight="bold">Current density (Ag<tspan font-size="7.64" dy="-4.32">-1</tspan><tspan dy="4.32">)</tspan></text>
<text x="245.2" y="291.4" font-size="8.4" text-anchor="middle" font-weight="bold" transform="rotate(-90 245.2 291.4)">specific capacitance Fg<tspan font-size="7.14" dy="-3.19">-1</tspan></text>
<text x="230.6" y="212.4" font-size="17.6" text-anchor="start" font-weight="bold">(e)</text>
<rect x="513.95" y="227.54" width="7.3" height="137.16" fill="url(#gB)" stroke="none" stroke-width="0"/>
<rect x="550.4" y="254.9" width="7.3" height="109.8" fill="url(#gB)" stroke="none" stroke-width="0"/>
<rect x="586.85" y="262.19" width="7.3" height="102.51" fill="url(#gB)" stroke="none" stroke-width="0"/>
<rect x="623.3" y="273.5" width="7.3" height="91.2" fill="url(#gB)" stroke="none" stroke-width="0"/>
<rect x="659.75" y="273.5" width="7.3" height="91.2" fill="url(#gB)" stroke="none" stroke-width="0"/>
<line x1="493.8" y1="364.7" x2="681.6" y2="364.7" stroke="#000" stroke-width="1.7"/>
<rect x="499.5" y="216.6" width="182.1" height="148.1" fill="none" stroke="#000" stroke-width="1.7"/>
<line x1="493.9" y1="364.7" x2="499.5" y2="364.7" stroke="#000" stroke-width="1.4"/>
<text x="490.1" y="367.42" font-size="8" text-anchor="end" font-weight="bold">0</text>
<line x1="493.9" y1="346.46" x2="499.5" y2="346.46" stroke="#000" stroke-width="1.4"/>
<text x="490.1" y="349.18" font-size="8" text-anchor="end" font-weight="bold">50</text>
<line x1="493.9" y1="328.22" x2="499.5" y2="328.22" stroke="#000" stroke-width="1.4"/>
<text x="490.1" y="330.94" font-size="8" text-anchor="end" font-weight="bold">100</text>
<line x1="493.9" y1="309.98" x2="499.5" y2="309.98" stroke="#000" stroke-width="1.4"/>
<text x="490.1" y="312.7" font-size="8" text-anchor="end" font-weight="bold">150</text>
<line x1="493.9" y1="291.74" x2="499.5" y2="291.74" stroke="#000" stroke-width="1.4"/>
<text x="490.1" y="294.46" font-size="8" text-anchor="end" font-weight="bold">200</text>
<line x1="493.9" y1="273.5" x2="499.5" y2="273.5" stroke="#000" stroke-width="1.4"/>
<text x="490.1" y="276.22" font-size="8" text-anchor="end" font-weight="bold">250</text>
<line x1="493.9" y1="255.26" x2="499.5" y2="255.26" stroke="#000" stroke-width="1.4"/>
<text x="490.1" y="257.98" font-size="8" text-anchor="end" font-weight="bold">300</text>
<line x1="493.9" y1="237.02" x2="499.5" y2="237.02" stroke="#000" stroke-width="1.4"/>
<text x="490.1" y="239.74" font-size="8" text-anchor="end" font-weight="bold">350</text>
<line x1="493.9" y1="218.78" x2="499.5" y2="218.78" stroke="#000" stroke-width="1.4"/>
<text x="490.1" y="221.5" font-size="8" text-anchor="end" font-weight="bold">400</text>
<line x1="517.6" y1="364.7" x2="517.6" y2="370.3" stroke="#000" stroke-width="1.4"/>
<text x="517.6" y="380.95" font-size="7.5" text-anchor="middle" font-weight="bold">0.2</text>
<line x1="554.05" y1="364.7" x2="554.05" y2="370.3" stroke="#000" stroke-width="1.4"/>
<text x="554.05" y="380.95" font-size="7.5" text-anchor="middle" font-weight="bold">0.3</text>
<line x1="590.5" y1="364.7" x2="590.5" y2="370.3" stroke="#000" stroke-width="1.4"/>
<text x="590.5" y="380.95" font-size="7.5" text-anchor="middle" font-weight="bold">0.4</text>
<line x1="626.95" y1="364.7" x2="626.95" y2="370.3" stroke="#000" stroke-width="1.4"/>
<text x="626.95" y="380.95" font-size="7.5" text-anchor="middle" font-weight="bold">0.5</text>
<line x1="663.4" y1="364.7" x2="663.4" y2="370.3" stroke="#000" stroke-width="1.4"/>
<text x="663.4" y="380.95" font-size="7.5" text-anchor="middle" font-weight="bold">0.6</text>
<text x="586.9" y="394.4" font-size="8.8" text-anchor="middle" font-weight="bold">Current density (Ag<tspan font-size="8.1" dy="-4.58">-1</tspan><tspan dy="4.58">)</tspan></text>
<text x="474.1" y="291.8" font-size="8.8" text-anchor="middle" font-weight="bold" transform="rotate(-90 474.1 291.8)">specific capacitance Fg<tspan font-size="7.48" dy="-3.34">-1</tspan></text>
<text x="450.8" y="211.5" font-size="17.2" text-anchor="start" font-weight="normal">(f)</text>
</g></svg></div></body></html>
